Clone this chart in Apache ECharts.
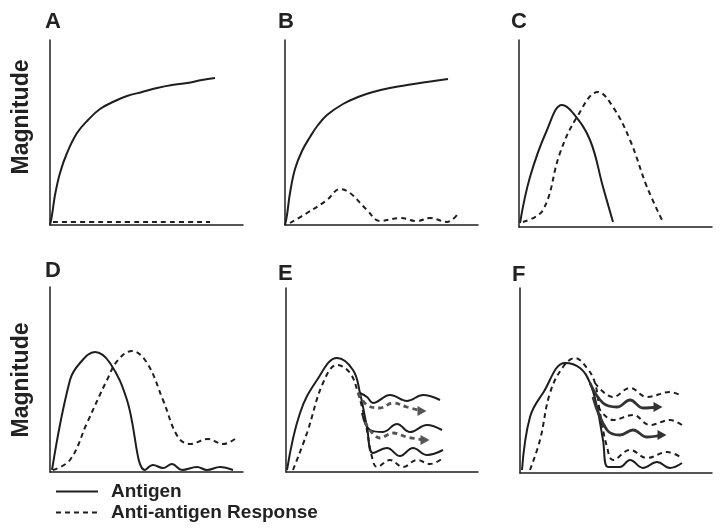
<!DOCTYPE html>
<html><head><meta charset="utf-8">
<script src="https://cdn.jsdelivr.net/npm/echarts@6/dist/echarts.min.js"></script>
<style>html,body{margin:0;padding:0;background:#fff}#c{width:723px;height:532px}</style>
</head><body><div id="c"></div>
<script>
// ---- data (time units, magnitude units) ----
var panelLetters = ['A','B','C','D','E','F'];
var legendNames = ['Antigen','Anti-antigen Response'];
var yAxisTitle = 'Magnitude';

var aAntigen  = [[0,0],[2,10],[5,30],[10,52],[17,72],[27,92],[38,105],[50,116],[65,124],[77,129],[92,133],[107,137],[122,140],[137,142],[152,145],[165,147]];
var aResponse = [[3,3],[40,3],[80,3],[120,3],[160,3]];

var bAntigen  = [[0,0],[2,10],[5,32],[10,56],[17,74],[25,88],[33,100],[42,110],[58,121],[73,128],[88,133],[105,137],[122,140],[142,143],[163,146]];
var bResponse = [[5,2],[22,12],[42,25],[55,36],[65,32],[82,15],[95,4],[115,7],[132,4],[145,7],[162,3],[172,10]];

var cAntigen  = [[1,4],[11,50],[28,97],[43,122],[54,114],[71,87],[84,40],[94,5]];
var cResponse = [[4,5],[24,17],[41,74],[58,110],[79,135],[94,120],[111,87],[128,40],[144,5]];

var dAntigen  = [[2,2],[20,92],[30,109],[45,120],[60,109],[77,72],[95,2],[103,7],[113,4],[122,8],[132,2],[147,5],[157,2],[170,5],[183,2]];
var dResponse = [[3,2],[20,12],[37,49],[57,92],[68,112],[82,121],[97,109],[113,72],[128,35],[140,28],[158,33],[173,28],[185,33]];

var eAntigen       = [[1,2],[14,59],[31,92],[51,114],[67,102],[74,79],[81,45],[87,19],[101,24],[114,16],[127,24],[141,17],[157,22]];
var eAntigenHigh   = [[74,79],[81,75],[87,69],[104,77],[121,71],[137,77],[154,72]];
var eAntigenMid    = [[76,59],[84,42],[97,40],[111,48],[124,40],[141,47],[156,42]];
var eResponse      = [[7,2],[21,39],[37,89],[51,107],[64,99],[72,79],[79,52],[86,15],[91,5],[104,12],[117,5],[131,12],[144,8],[157,14]];
var eResponseHigh  = [[72,79],[81,67],[94,64],[107,69],[121,65],[136,61]];
var eResponseMid   = [[79,50],[94,34],[107,39],[121,35],[139,32]];

var fAntigen       = [[2,3],[10,56],[23,80],[45,110],[60,105],[70,90],[77,66],[83,33],[88,6],[100,6],[110,13],[123,5],[137,11],[150,5],[162,10]];
var fAntigenHigh   = [[70,90],[83,70],[97,66],[110,73],[123,65],[138,66]];
var fAntigenMid    = [[73,76],[87,43],[100,38],[113,43],[127,36],[142,38]];
var fResponse      = [[10,3],[20,33],[30,80],[43,106],[55,115],[67,105],[75,90],[80,60],[87,26],[93,13],[110,23],[127,15],[147,21],[162,15]];
var fResponseHigh  = [[75,90],[93,76],[110,85],[127,76],[150,81],[162,77]];
var fResponseMid   = [[78,66],[93,53],[113,58],[130,48],[150,53],[162,48]];

// ---- layout ----
var grids = [
  {left:50, top:40, width:193, height:185},
  {left:285,top:40, width:193, height:185},
  {left:519,top:40, width:193, height:187},
  {left:50, top:287,width:193, height:185},
  {left:286,top:288,width:192, height:184},
  {left:520,top:288,width:192, height:185}
];
var ink = '#1e1e1e';
var xAxes = grids.map(function(g,i){return {gridIndex:i,type:'value',min:0,max:g.width,
  axisLine:{show:true,onZero:false,lineStyle:{color:ink,width:1.5}},axisTick:{show:false},axisLabel:{show:false},splitLine:{show:false}};});
var yAxes = grids.map(function(g,i){return {gridIndex:i,type:'value',min:0,max:g.height,
  axisLine:{show:true,onZero:false,lineStyle:{color:ink,width:1.5}},axisTick:{show:false},axisLabel:{show:false},splitLine:{show:false}};});

function line(gi, data, kind){
  var dashed = kind==='dashed'||kind==='arrowDashed';
  var arrow = kind==='arrowSolid'||kind==='arrowDashed';
  var col = kind==='arrowDashed' ? '#555' : (kind==='arrowSolid' ? '#333' : ink);
  var d = data.map(function(p,k){
    if(arrow && k===data.length-1) return {value:p,symbol:'triangle',symbolSize:[10,9],symbolRotate:-90,itemStyle:{color:col}};
    return {value:p};
  });
  return {type:'line',name:dashed?legendNames[1]:legendNames[0],xAxisIndex:gi,yAxisIndex:gi,data:d,
    smooth:0.4,symbol:'none',showSymbol:arrow,silent:true,animation:false,
    itemStyle:{color:col},
    lineStyle:{color:col,width:arrow?2.8:2,type:dashed?[5,4]:'solid'}};
}

var series = [
  line(0,aAntigen,'solid'), line(0,aResponse,'dashed'),
  line(1,bAntigen,'solid'), line(1,bResponse,'dashed'),
  line(2,cAntigen,'solid'), line(2,cResponse,'dashed'),
  line(3,dAntigen,'solid'), line(3,dResponse,'dashed'),
  line(4,eAntigen,'solid'), line(4,eAntigenHigh,'solid'), line(4,eAntigenMid,'solid'),
  line(4,eResponse,'dashed'), line(4,eResponseHigh,'arrowDashed'), line(4,eResponseMid,'arrowDashed'),
  line(5,fAntigen,'solid'), line(5,fResponse,'dashed'), line(5,fResponseHigh,'dashed'), line(5,fResponseMid,'dashed'),
  line(5,fAntigenHigh,'arrowSolid'), line(5,fAntigenMid,'arrowSolid')
];

var letterPos = [[45,11],[278,11],[511,11],[45,260],[278,263],[512,264]];
var titles = panelLetters.map(function(t,i){return {text:t,left:letterPos[i][0],top:letterPos[i][1],padding:0,
  textStyle:{fontFamily:'Liberation Sans',fontWeight:'bold',fontSize:22,color:'#222'}};});

var chart = echarts.init(document.getElementById('c'),null,{renderer:'canvas'});
chart.setOption({
  backgroundColor:'#fff',
  animation:false,
  title:titles,
  grid:grids,
  xAxis:xAxes,
  yAxis:yAxes,
  legend:{data:legendNames,orient:'vertical',left:55,top:482,itemGap:2,itemWidth:42,itemHeight:20,padding:0,
    itemStyle:{opacity:0,color:'rgba(0,0,0,0)',borderWidth:0},
    textStyle:{fontFamily:'Liberation Sans',fontWeight:'bold',fontSize:19,color:'#222',padding:[0,0,0,8]},selectedMode:false},
  graphic:[
    {type:'text',x:22,y:117,rotation:Math.PI/2,style:{text:yAxisTitle,font:'bold 23px "Liberation Sans"',fill:'#222',align:'center',verticalAlign:'middle'}},
    {type:'text',x:22,y:380,rotation:Math.PI/2,style:{text:yAxisTitle,font:'bold 23px "Liberation Sans"',fill:'#222',align:'center',verticalAlign:'middle'}}
  ],
  series:series
});
</script></body></html>
